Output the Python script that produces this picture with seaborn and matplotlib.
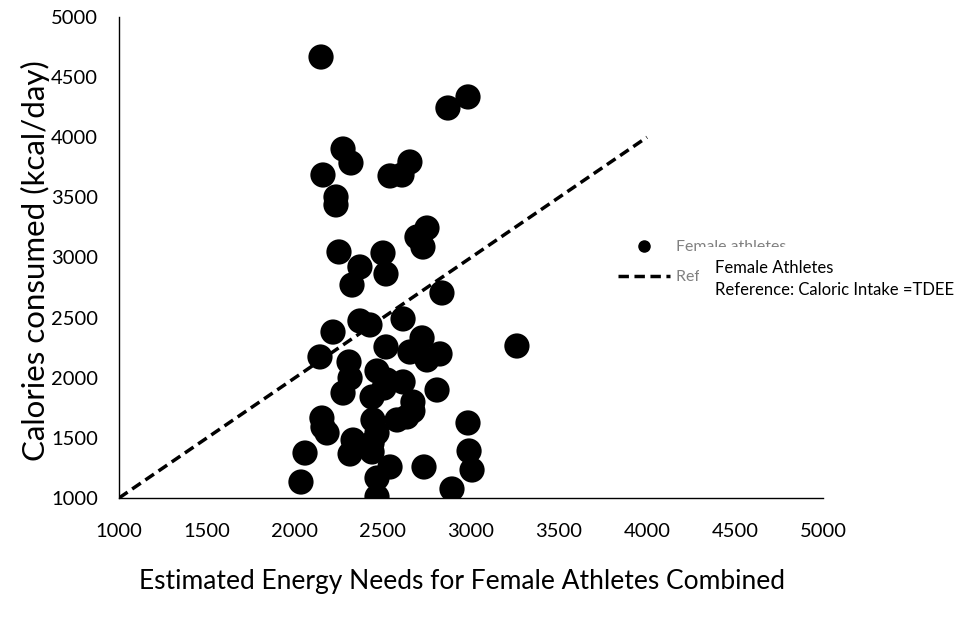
import matplotlib
matplotlib.use("Agg")
import matplotlib.pyplot as plt
import seaborn as sns
import pandas as pd
from matplotlib.lines import Line2D
from matplotlib.patches import Rectangle

# Data
energy_needs = [2148, 2869, 2983, 2273, 2318, 2159, 2233, 2233, 2540, 2608,
                2653, 2750, 2693, 2727, 2250, 2500, 2369, 2517, 2324, 2835,
                2369, 2426, 2216, 2614, 2142, 2722, 2653, 2750, 2824, 2517,
                3261, 2307, 2313, 2273, 2466, 2523, 2614, 2438, 2807, 2670,
                2153, 2159, 2182, 2057, 2034, 2330, 2313, 2443, 2466, 2438,
                2438, 2540, 2466, 2466, 2733, 2892, 2983, 2989, 3006, 2580,
                2636, 2670, 2506]
calories = [4667, 4243, 4335, 3902, 3786, 3686, 3503, 3437, 3678, 3686,
            3794, 3245, 3170, 3087, 3046, 3037, 2921, 2863, 2771, 2705,
            2472, 2439, 2380, 2489, 2173, 2331, 2214, 2148, 2198, 2256,
            2264, 2131, 1998, 1873, 2056, 1981, 1965, 1840, 1898, 1798,
            1665, 1590, 1541, 1374, 1133, 1482, 1366, 1649, 1541, 1457,
            1383, 1258, 1166, 1010, 1258, 1075, 1624, 1391, 1233, 1649,
            1674, 1724, 1915]
ref_x = [1000, 4000]
ref_y = [1000, 4000]
ticks = [1000, 1500, 2000, 2500, 3000, 3500, 4000, 4500, 5000]

sns.set_theme(style="white")
plt.rcParams['font.family'] = ['Lato', 'DejaVu Sans']

fig = plt.figure(figsize=(9.61, 6.24), dpi=100)
ax = fig.add_axes([0.1238, 0.2019, 0.7326, 0.7709])

df = pd.DataFrame({"x": energy_needs, "y": calories})
sns.scatterplot(data=df, x="x", y="y", ax=ax, color="black", s=330,
                edgecolor="none", linewidth=0, legend=False, zorder=3)
ref = pd.DataFrame({"x": ref_x, "y": ref_y})
sns.lineplot(data=ref, x="x", y="y", ax=ax, color="black", linewidth=2.5,
             linestyle=(0, (3, 1.6)), legend=False, zorder=2)

ax.set_xlim(1000, 5000)
ax.set_ylim(1000, 5000)
ax.set_xticks(ticks)
ax.set_yticks(ticks)
ax.set_xticklabels([str(t) for t in ticks])
ax.set_yticklabels([str(t) for t in ticks])
ax.tick_params(axis='both', length=0, labelsize=14.5, colors='black')
ax.tick_params(axis='x', pad=18)
ax.tick_params(axis='y', pad=15)
for s in ['top', 'right']:
    ax.spines[s].set_visible(False)
for s in ['left', 'bottom']:
    ax.spines[s].set_color('black')
    ax.spines[s].set_linewidth(1.0)

ax.set_xlabel("")
ax.set_ylabel("")
fig.text(35 / 961, 1 - 261 / 624, "Calories consumed (kcal/day)", rotation=90,
         ha='center', va='center', fontsize=22.5, color='black')
fig.text(462 / 961, 1 - 581 / 624, "Estimated Energy Needs for Female Athletes Combined",
         ha='center', va='center', fontsize=19, color='black')

handles = [Line2D([], [], marker='o', color='black', linestyle='none', markersize=8),
           Line2D([], [], color='black', linestyle=(0, (3, 1.6)), linewidth=2.5)]
leg = fig.legend(handles, ["Female athletes", "Reference: Caloric Intake =TDEE"],
                 loc='upper left', bbox_to_anchor=(607 / 961, 1 - 229 / 624),
                 frameon=False, fontsize=11.4, labelcolor='#808080',
                 handlelength=3.3, handletextpad=0.35, labelspacing=1.0,
                 borderpad=0.2)

fig.patches.append(Rectangle((699 / 961, 1 - 306 / 624), 262 / 961, 59 / 624,
                             transform=fig.transFigure, facecolor='white',
                             edgecolor='none', zorder=10))
fig.text(715 / 961, 1 - 268 / 624, "Female Athletes", fontsize=12,
         color='black', va='center', ha='left', zorder=11)
fig.text(715 / 961, 1 - 290 / 624, "Reference: Caloric Intake =TDEE", fontsize=12,
         color='black', va='center', ha='left', zorder=11)

fig.savefig("out.png", dpi=100)
